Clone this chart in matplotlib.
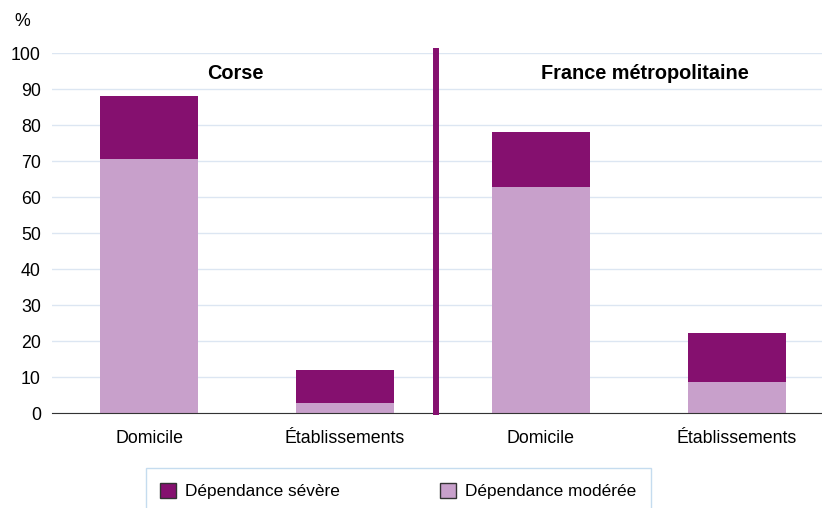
import matplotlib.pyplot as plt
from matplotlib.patches import Patch, Rectangle

plt.rcParams['font.family'] = ['Liberation Sans', 'DejaVu Sans']
plt.rcParams['font.size'] = 12.8

categories = ["Domicile", "Établissements", "Domicile", "Établissements"]
groups = ["Corse", "France métropolitaine"]
moderee = [70.6, 2.9, 62.8, 8.6]
severe = [17.5, 9.0, 15.3, 13.6]
yticks = list(range(0, 101, 10))

SEVERE_COLOR = "#85106F"
MODEREE_COLOR = "#C8A0CB"
GRID_COLOR = "#DCE6F2"

fig = plt.figure(figsize=(8.22, 5.08), dpi=100)
ax = fig.add_axes([52 / 822, 95 / 508, 780 / 822, 360 / 508])

x = list(range(len(categories)))
ax.bar(x, moderee, width=0.5, color=MODEREE_COLOR, zorder=2)
ax.bar(x, severe, width=0.5, bottom=moderee, color=SEVERE_COLOR, zorder=2)

ax.set_xlim(-0.495, 3.485)
ax.set_ylim(0, 100)
ax.set_yticks(yticks)
ax.set_xticks(x)
ax.set_xticklabels(categories)
ax.tick_params(axis='x', length=0, pad=12)
ax.tick_params(axis='y', length=0, pad=8)
ax.yaxis.grid(True, color=GRID_COLOR, linewidth=1)
ax.set_axisbelow(True)
for side in ["top", "right", "left"]:
    ax.spines[side].set_visible(False)
ax.spines["bottom"].set_color("#333333")
ax.spines["bottom"].set_zorder(3)

# separator between the two areas
ax.plot([1.465, 1.465], [-0.5, 101.5], color=SEVERE_COLOR, linewidth=4.3,
        clip_on=False, solid_capstyle='butt', zorder=4)

ax.text(0.44, 94.4, groups[0], ha='center', va='center', fontweight='bold', fontsize=14.3)
ax.text(2.53, 94.4, groups[1], ha='center', va='center', fontweight='bold', fontsize=14.3)

fig.text(22 / 822, 1 - 22 / 508, "%", ha='center', va='center')

# legend box, cut by the bottom edge
fig.patches.append(Rectangle((146 / 822, -0.02), 505 / 822, 0.02 + 40 / 508,
                             transform=fig.transFigure, facecolor='white',
                             edgecolor="#C5DCEF", linewidth=1))
handles = [Patch(facecolor=SEVERE_COLOR, edgecolor="#333333", label="Dépendance sévère"),
           Patch(facecolor=MODEREE_COLOR, edgecolor="#333333", label="Dépendance modérée")]
fig.legend(handles=handles, loc='center left', bbox_to_anchor=(160 / 822, 1 - 491 / 508),
           ncol=2, frameon=False, fontsize=12.4, borderpad=0,
           handlelength=0.93, handleheight=0.93,
           handletextpad=0.52, columnspacing=5.8, borderaxespad=0)

fig.savefig("out.png", dpi=100)
